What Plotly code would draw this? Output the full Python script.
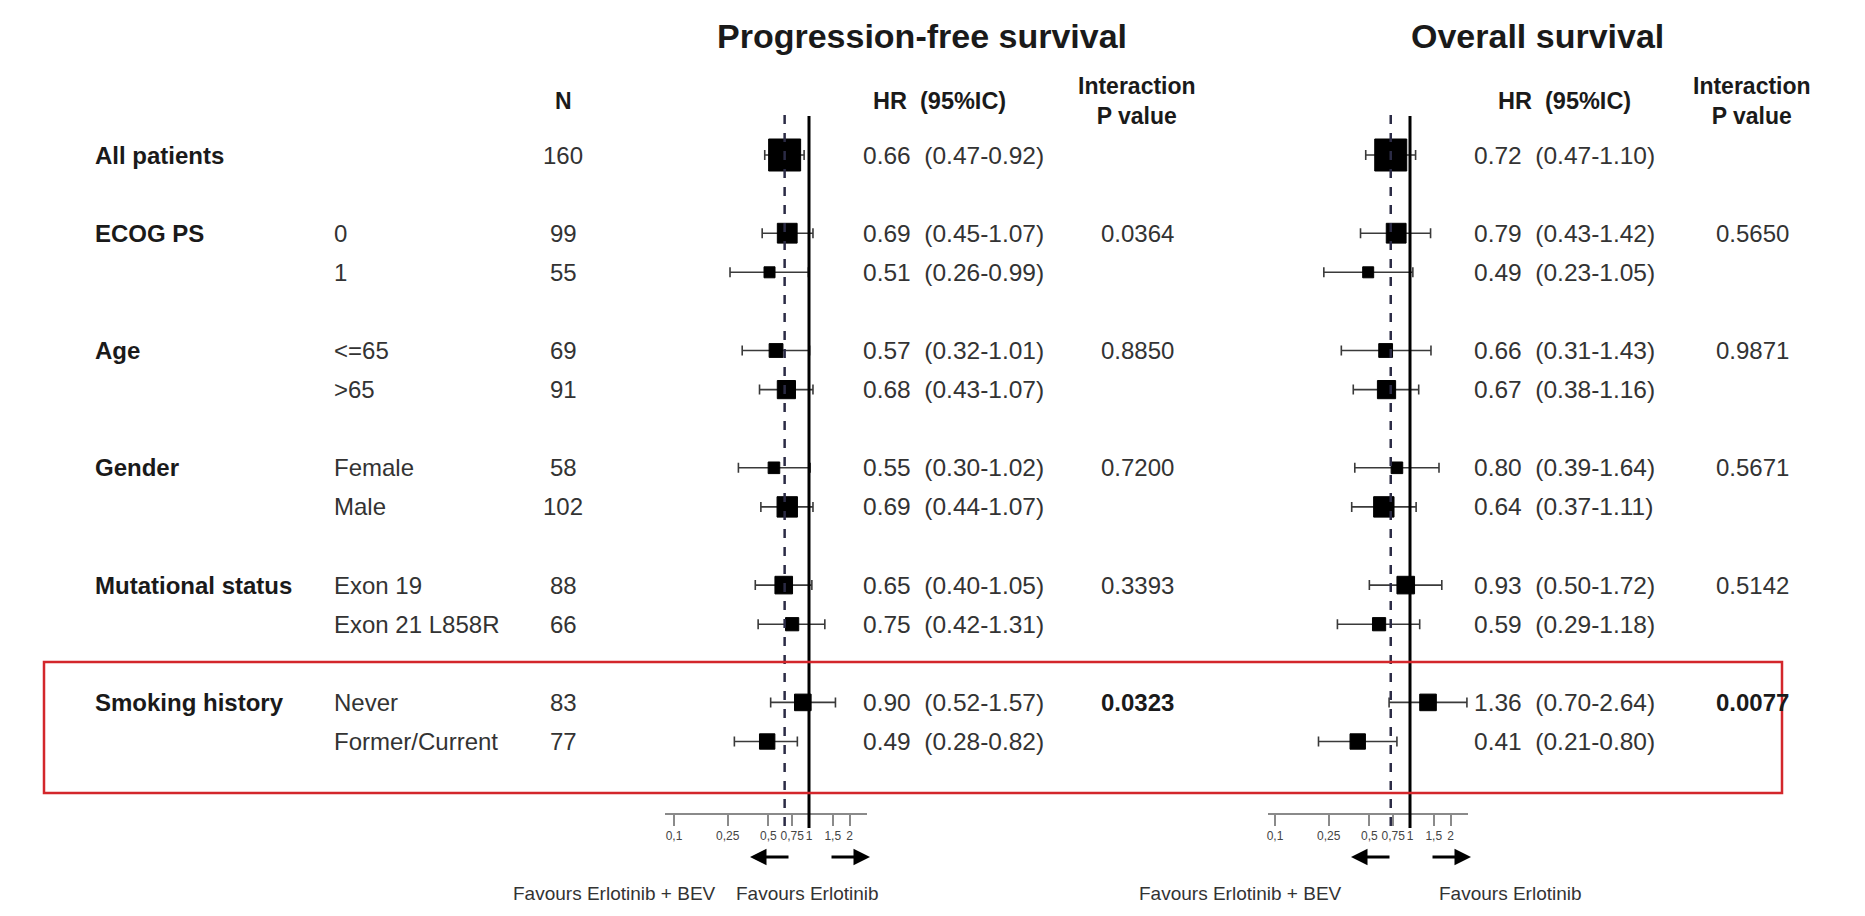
import plotly.graph_objects as go

# ---- data -------------------------------------------------------------
group_labels = ["All patients", "ECOG PS", "", "Age", "", "Gender", "",
                "Mutational status", "", "Smoking history", ""]
subgroup_labels = ["", "0", "1", "<=65", ">65", "Female", "Male",
                   "Exon 19", "Exon 21 L858R", "Never", "Former/Current"]
n_patients = [160, 99, 55, 69, 91, 58, 102, 88, 66, 83, 77]

pfs_hr = [0.66, 0.69, 0.51, 0.57, 0.68, 0.55, 0.69, 0.65, 0.75, 0.90, 0.49]
pfs_lo = [0.47, 0.45, 0.26, 0.32, 0.43, 0.30, 0.44, 0.40, 0.42, 0.52, 0.28]
pfs_hi = [0.92, 1.07, 0.99, 1.01, 1.07, 1.02, 1.07, 1.05, 1.31, 1.57, 0.82]
pfs_p = ["", "0.0364", "", "0.8850", "", "0.7200", "", "0.3393", "", "0.0323", ""]

os_hr = [0.72, 0.79, 0.49, 0.66, 0.67, 0.80, 0.64, 0.93, 0.59, 1.36, 0.41]
os_lo = [0.47, 0.43, 0.23, 0.31, 0.38, 0.39, 0.37, 0.50, 0.29, 0.70, 0.21]
os_hi = [1.10, 1.42, 1.05, 1.43, 1.16, 1.64, 1.11, 1.72, 1.18, 2.64, 0.80]
os_p = ["", "0.5650", "", "0.9871", "", "0.5671", "", "0.5142", "", "0.0077", ""]

bold_p = ["0.0323", "0.0077"]

tick_vals = [0.1, 0.25, 0.5, 0.75, 1, 1.5, 2]
tick_text = ["0,1", "0,25", "0,5", "0,75", "1", "1,5", "2"]

# ---- page geometry ----------------------------------------------------
W, H = 1865, 916
FONT = "Liberation Sans, Arial, Helvetica, sans-serif"
INK = "#1a1a1a"
TXT = "#333333"


def px(x):
    return x / W


def py(y):
    return 1 - y / H


def label(text, x, y, yref="paper", xanchor="center", size=24, color=TXT):
    return dict(text=text, x=px(x), y=(py(y) if yref == "paper" else y),
                xref="paper", yref=yref, showarrow=False,
                xanchor=xanchor, yanchor="middle",
                font=dict(family=FONT, size=size, color=color))


# row index for each line: one blank row between groups
rows = []
r = -2
for g in group_labels:
    r += 2 if g else 1
    rows.append(r)

ROW0, ROWSTEP = 155, 39.1       # pixel of first row, pixels per row
AXIS_Y = 813                     # pixel of the horizontal HR axis
y_bottom = (AXIS_Y - ROW0) / ROWSTEP
y_top = (0 - ROW0) / ROWSTEP

panels = [
    dict(xa="x", key="xaxis", hr=pfs_hr, lo=pfs_lo, hi=pfs_hi, p=pfs_p,
         dom=(665, 867), one_px=809, title="Progression-free survival", title_x=922,
         hr_x=861, hdr_x=871, p_x=1137, fav_l=(535, 718), fav_r=734),
    dict(xa="x2", key="xaxis2", hr=os_hr, lo=os_lo, hi=os_hi, p=os_p,
         dom=(1268, 1468), one_px=1410, title="Overall survival", title_x=1537,
         hr_x=1472, hdr_x=1496, p_x=1752, fav_l=(1138, 1344), fav_r=1437),
]
PX_PER_DECADE = 135.0

fig = go.Figure()
annotations = []
shapes = []

# ---- forest panels ---------------------------------------------------
for pn in panels:
    fig.add_trace(go.Scatter(
        x=pn["hr"], y=rows, xaxis=pn["xa"], yaxis="y",
        mode="markers",
        marker=dict(symbol="square", color="#000000", opacity=1,
                    size=[v * 0.2 for v in n_patients],
                    line=dict(width=1, color="#000000")),
        error_x=dict(type="data", symmetric=False,
                     array=[h - m for h, m in zip(pn["hi"], pn["hr"])],
                     arrayminus=[m - l for m, l in zip(pn["hr"], pn["lo"])],
                     color="#3a3a3a", thickness=1.6, width=5),
        cliponaxis=False, showlegend=False, hoverinfo="skip",
    ))
    lo_px, hi_px = pn["dom"]
    left = (lo_px - pn["one_px"]) / PX_PER_DECADE
    right = (hi_px - pn["one_px"]) / PX_PER_DECADE
    fig.layout[pn["key"]] = dict(
        domain=[px(lo_px), px(hi_px)], type="log", range=[left, right],
        anchor="y", showgrid=False, zeroline=False,
        showline=True, linecolor="#8a8a8a", linewidth=2,
        ticks="outside", ticklen=11, tickwidth=1.5, tickcolor="#8a8a8a",
        tickmode="array", tickvals=tick_vals, ticktext=tick_text,
        tickangle=0,
        tickfont=dict(family=FONT, size=12, color="#444444"),
        fixedrange=True,
    )
    # reference line at HR = 1 and dashed line at overall HR
    shapes.append(dict(type="line", xref=pn["xa"], yref="paper",
                       x0=1, x1=1, y0=py(828), y1=py(116),
                       line=dict(color="black", width=3)))
    shapes.append(dict(type="line", xref=pn["xa"], yref="paper",
                       x0=pn["hr"][0], x1=pn["hr"][0], y0=py(826), y1=py(113),
                       line=dict(color="#2b2b45", width=2.5, dash="dash")))

    # panel title and column headers
    annotations.append(label("<b>%s</b>" % pn["title"], pn["title_x"], 36, size=34, color=INK))
    annotations.append(label("<b>HR\u00a0\u00a0(95%IC)</b>", pn["hdr_x"], 101,
                             xanchor="left", size=23.5, color=INK))
    annotations.append(label("<b>Interaction<br>P value</b>", pn["p_x"], 101, size=23, color=INK))

    # HR (95% CI) and interaction p-value columns
    for i, rr in enumerate(rows):
        annotations.append(label(
            "%.2f\u00a0\u00a0(%.2f-%.2f)" % (pn["hr"][i], pn["lo"][i], pn["hi"][i]),
            pn["hr_x"], rr, yref="y", xanchor="left", size=24.5))
        if pn["p"][i]:
            t = pn["p"][i]
            if t in bold_p:
                annotations.append(label("<b>%s</b>" % t, pn["p_x"], rr, yref="y", color=INK))
            else:
                annotations.append(label(t, pn["p_x"], rr, yref="y"))

    # direction arrows and captions below the axis
    annotations.append(dict(text="", x=px(pn["one_px"] - 59), y=py(857), xref="paper",
                            yref="paper", ax=40, ay=0, showarrow=True, arrowhead=2,
                            arrowsize=1.1, arrowwidth=3, arrowcolor="black"))
    annotations.append(dict(text="", x=px(pn["one_px"] + 61), y=py(857), xref="paper",
                            yref="paper", ax=-40, ay=0, showarrow=True, arrowhead=2,
                            arrowsize=1.1, arrowwidth=3, arrowcolor="black"))
    annotations.append(label("Favours Erlotinib + BEV", pn["fav_l"][1], 893,
                             xanchor="right", size=19))
    annotations.append(label("Favours Erlotinib", pn["fav_r"], 893, xanchor="left", size=19))

# ---- left-hand table -------------------------------------------------
annotations.append(label("<b>N</b>", 563, 101, size=23, color=INK))
for i, rr in enumerate(rows):
    if group_labels[i]:
        annotations.append(label("<b>%s</b>" % group_labels[i], 93, rr, yref="y",
                                 xanchor="left", color=INK))
    if subgroup_labels[i]:
        annotations.append(label(subgroup_labels[i], 332, rr, yref="y", xanchor="left"))
    annotations.append(label(str(n_patients[i]), 563, rr, yref="y"))

# highlight box around the smoking-history subgroup
shapes.append(dict(type="rect", xref="paper", yref="paper",
                   x0=px(44), x1=px(1782), y0=py(793), y1=py(662),
                   line=dict(color="#d3262b", width=2.5), fillcolor="rgba(0,0,0,0)"))

fig.update_layout(
    width=W, height=H, autosize=False,
    margin=dict(l=0, r=0, t=0, b=0),
    paper_bgcolor="white", plot_bgcolor="rgba(0,0,0,0)",
    yaxis=dict(domain=[py(AXIS_Y), 1], range=[y_bottom, y_top], visible=False,
               fixedrange=True),
    annotations=annotations, shapes=shapes,
    showlegend=False,
)

fig.write_html("out.html", config={"displayModeBar": False})
